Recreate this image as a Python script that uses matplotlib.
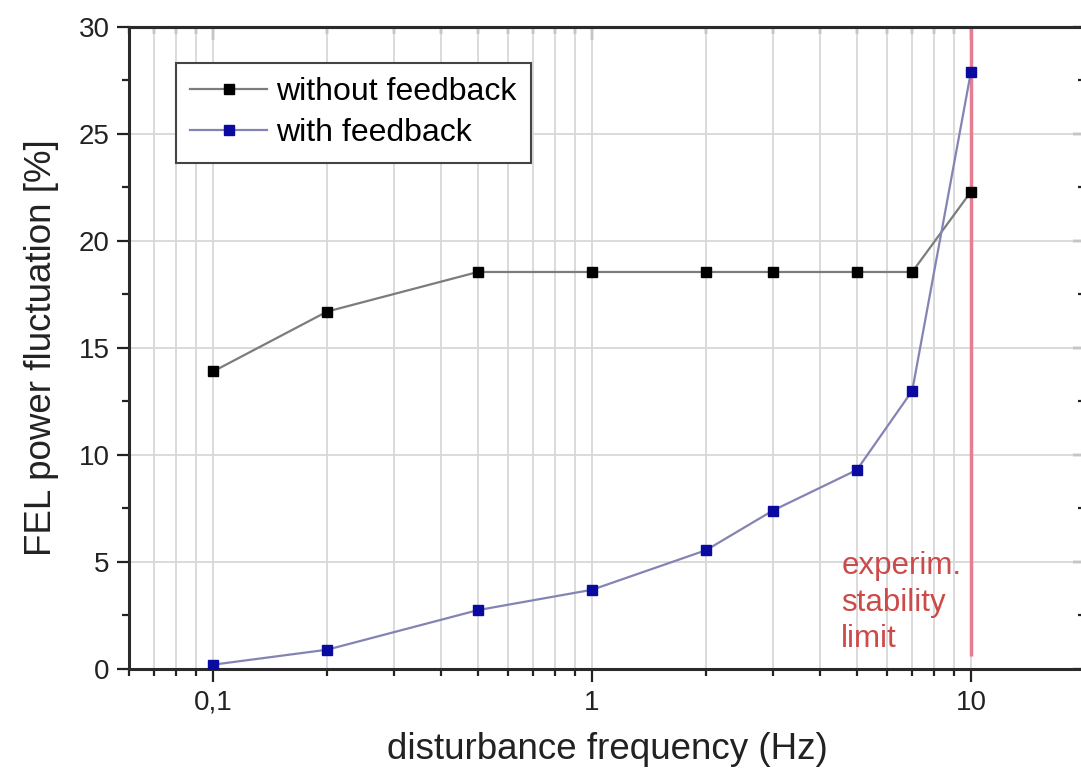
import numpy as np
import matplotlib
matplotlib.use("Agg")
import matplotlib.pyplot as plt
from matplotlib.ticker import LogLocator, NullFormatter, FixedLocator, MultipleLocator

plt.rcParams['font.family'] = ['Liberation Sans', 'DejaVu Sans']

# data
freq = [0.1, 0.2, 0.5, 1, 2, 3, 5, 7, 10]
without_fb = [13.9, 16.7, 18.55, 18.55, 18.55, 18.55, 18.55, 18.55, 22.3]
with_fb = [0.2, 0.9, 2.75, 3.7, 5.55, 7.4, 9.3, 13.0, 27.9]
limit_freq = 10
limit_y = [0.6, 30]

xticks = [0.1, 1, 10]
xticklabels = ["0,1", "1", "10"]

fig = plt.figure(figsize=(10.81, 7.74), dpi=100)
ax = fig.add_axes([0.1193, 0.1357, 0.8844, 0.8295])
ax.set_xscale('log')
ax.set_xlim(0.06, 20)
ax.set_ylim(0, 30)

# grid
ax.grid(which='both', axis='x', color='#d8d8d8', lw=1.3, zorder=0)
ax.grid(which='major', axis='y', color='#d8d8d8', lw=1.3, zorder=0)
ax.set_axisbelow(True)

ax.plot(freq, without_fb, '-', color='#7c7c7c', lw=1.6, marker='s', ms=7.5,
        mfc='black', mec='black', label='without feedback', zorder=3)
ax.plot(freq, with_fb, '-', color='#8484b4', lw=1.6, marker='s', ms=7.5,
        mfc='#0a0aa0', mec='#0a0aa0', label='with feedback', zorder=3)

ax.vlines(limit_freq, limit_y[0], limit_y[1], color='#e67d90', lw=2.5, zorder=2)
ax.text(4.55, 5.5, "experim.\nstability\nlimit", color='#cc4a4a', fontsize=22.5,
        ha='left', va='top', linespacing=1.28)

# ticks
ax.xaxis.set_major_locator(FixedLocator(xticks))
ax.set_xticklabels(xticklabels)
ax.xaxis.set_minor_locator(LogLocator(base=10, subs=np.arange(2, 10)))
ax.xaxis.set_minor_formatter(NullFormatter())
ax.yaxis.set_major_locator(MultipleLocator(5))
ax.yaxis.set_minor_locator(MultipleLocator(2.5))
ax.tick_params(which='major', direction='out', length=9, width=1.6, labelsize=20,
               colors='#222222', pad=5)
ax.tick_params(which='minor', direction='out', length=5, width=1.6, colors='#222222')
ax.tick_params(axis='x', which='major', pad=6)

for s in ax.spines.values():
    s.set_linewidth(2.2)
    s.set_color('#2a2a2a')

top = ax.secondary_xaxis('top')
top.xaxis.set_major_locator(FixedLocator(xticks))
top.xaxis.set_minor_locator(LogLocator(base=10, subs=np.arange(2, 10)))
top.xaxis.set_major_formatter(NullFormatter())
top.xaxis.set_minor_formatter(NullFormatter())
top.tick_params(which='major', direction='in', length=9, width=1.6, colors='#222222')
top.tick_params(which='minor', direction='in', length=5, width=1.6, colors='#222222')
top.spines['top'].set_linewidth(2.2)
top.spines['top'].set_color('#2a2a2a')

right = ax.secondary_yaxis('right')
right.yaxis.set_major_locator(MultipleLocator(5))
right.yaxis.set_minor_locator(MultipleLocator(2.5))
right.yaxis.set_major_formatter(NullFormatter())
right.tick_params(which='major', direction='in', length=9, width=1.6, colors='#222222')
right.tick_params(which='minor', direction='in', length=5, width=1.6, colors='#222222')

ax.set_xlabel("disturbance frequency (Hz)", fontsize=26.5, color='#222222', labelpad=12)
ax.set_ylabel("FEL power fluctuation [%]", fontsize=26.5, color='#222222', labelpad=14)

leg = ax.legend(loc='upper left', bbox_to_anchor=(0.049, 0.944), borderaxespad=0,
                fontsize=23, numpoints=1, handlelength=2.4, handletextpad=0.3,
                labelspacing=0.35, borderpad=0.45, fancybox=False, framealpha=1,
                edgecolor='#444444')
leg.get_frame().set_linewidth(1.5)

fig.savefig("out.png", dpi=100)
